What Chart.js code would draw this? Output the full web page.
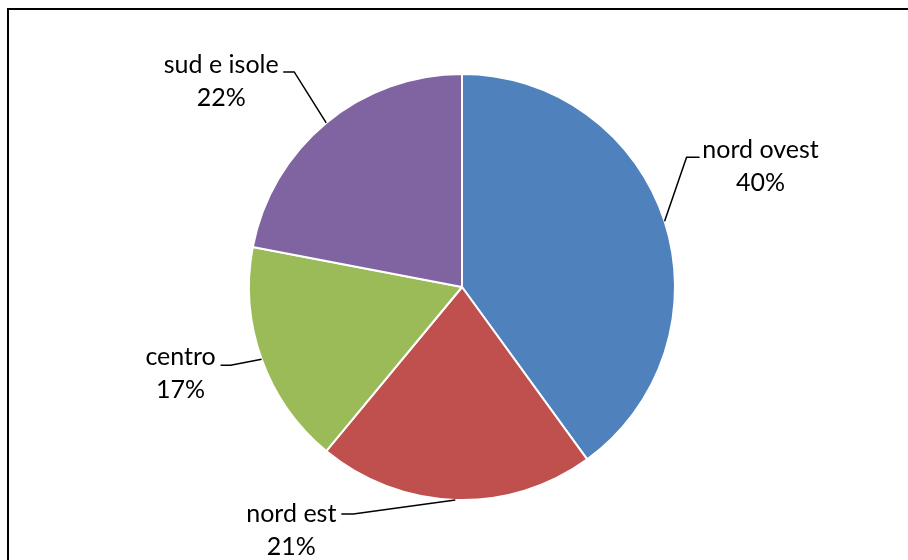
<!DOCTYPE html>
<html>
<head>
<meta charset="utf-8">
<script src="https://cdn.jsdelivr.net/npm/chart.js@4"></script>
<style>
  html, body { margin: 0; padding: 0; background: #fff; }
  #wrap { width: 908px; height: 560px; }
</style>
</head>
<body>
<div id="wrap"><canvas id="pie" width="908" height="560"></canvas></div>
<script>
// categories and values (percent)
var labels = ['nord ovest', 'nord est', 'centro', 'sud e isole'];
var values = [40, 21, 17, 22];
var colors = ['#4F81BD', '#C0504D', '#9BBB59', '#8064A2'];

// label placement relative to the slice anchor: bend point and text centre (px)
var labelPos = [
	{ bend: [22, -64], end: [35, -64], text: [96, -71] },
	{ bend: [-102, 14], end: [-114, 14], text: [-164, 14] },
	{ bend: [-31, 6], end: [-41, 6], text: [-81, -2] },
	{ bend: [-32, -51], end: [-43, -51], text: [-105, -58] }
];

var frame_plugin = {
	id: 'frame',
	beforeDraw: function(chart) {
		var ctx = chart.ctx;
		ctx.save();
		ctx.fillStyle = '#fff';
		ctx.fillRect(0, 0, chart.width, chart.height);
		ctx.strokeStyle = '#000';
		ctx.lineWidth = 2;
		ctx.strokeRect(8, 9, 1000, 1000);
		ctx.restore();
	}
};

var label_plugin = {
	id: 'leaders',
	afterDatasetsDraw: function(chart) {
		var ctx = chart.ctx;
		var meta = chart.getDatasetMeta(0);
		ctx.save();
		meta.data.forEach(function(arc, i) {
			var p = arc.getProps(['x', 'y', 'startAngle', 'endAngle', 'outerRadius'], true);
			var mid = (p.startAngle + p.endAngle) / 2;
			var ax = p.x + Math.cos(mid) * p.outerRadius;
			var ay = p.y + Math.sin(mid) * p.outerRadius;
			var lp = labelPos[i];
			ctx.strokeStyle = '#000';
			ctx.lineWidth = 1.5;
			ctx.beginPath();
			ctx.moveTo(ax, ay);
			ctx.lineTo(ax + lp.bend[0], ay + lp.bend[1]);
			ctx.lineTo(ax + lp.end[0], ay + lp.end[1]);
			ctx.stroke();

			var tx = ax + lp.text[0];
			var ty = ay + lp.text[1];
			ctx.fillStyle = '#000';
			ctx.font = '25px Lato, "Liberation Sans", sans-serif';
			ctx.textAlign = 'center';
			ctx.textBaseline = 'middle';
			ctx.fillText(labels[i], tx, ty);
			ctx.fillText(values[i] + '%', tx, ty + 33);
		});
		ctx.restore();
	}
};

var chart = new Chart(document.getElementById('pie'), {
	type: 'pie',
	data: {
		labels: labels,
		datasets: [{
			data: values,
			backgroundColor: colors,
			borderColor: '#fff',
			borderWidth: 2
		}]
	},
	options: {
		responsive: false,
		animation: false,
		layout: {
			padding: { top: 73, bottom: 59, left: 100, right: 84 }
		},
		plugins: {
			legend: { display: false },
			tooltip: { enabled: false }
		}
	},
	plugins: [frame_plugin, label_plugin]
});
</script>
</body>
</html>
